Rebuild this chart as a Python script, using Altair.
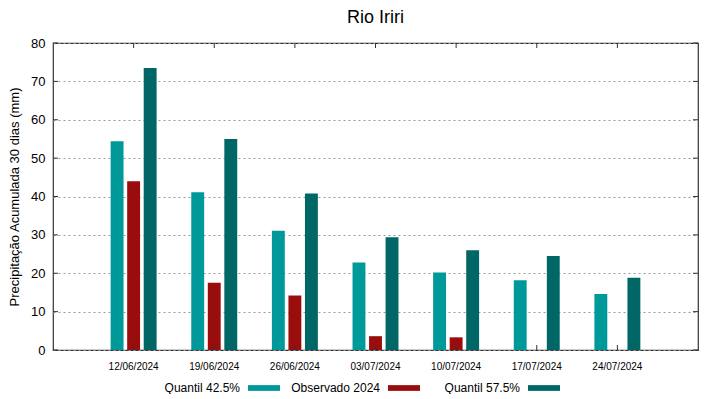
import altair as alt
import pandas as pd

dates = ["12/06/2024", "19/06/2024", "26/06/2024", "03/07/2024",
         "10/07/2024", "17/07/2024", "24/07/2024"]
series = ["Quantil 42.5%", "Observado 2024", "Quantil 57.5%"]
colors = ["#009999", "#990d0d", "#006666"]

q425 = [54.4, 41.1, 31.1, 22.8, 20.2, 18.2, 14.6]
obs = [44.0, 17.5, 14.2, 3.6, 3.3, None, None]
q575 = [73.5, 55.0, 40.8, 29.4, 26.0, 24.5, 18.8]
y_ticks = [0, 10, 20, 30, 40, 50, 60, 70, 80]

rows = []
for i, d in enumerate(dates):
    for s, vals in zip(series, [q425, obs, q575]):
        if vals[i] is not None:
            rows.append({"data": d, "serie": s, "valor": vals[i]})
df = pd.DataFrame(rows)
df_dates = pd.DataFrame({"data": dates})
df_yt = pd.DataFrame({"v": y_ticks})

FONT = "Liberation Sans"
W, H = 645, 307

x_scale = alt.Scale(paddingInner=0.43, paddingOuter=0.715)
y_scale = alt.Scale(domain=[0, 80], nice=False)
x_axis = alt.Axis(title=None, labelAngle=0, labelFontSize=10,
                  labelPadding=11, tickSize=0, domain=False, grid=False,
                  bandPosition=0.5, labelColor="#000", labelFont=FONT)
y_axis = alt.Axis(title="Precipitação Acumulada 30 dias (mm)",
                  values=y_ticks, labelFontSize=13,
                  titleFontSize=13, titleFontWeight="normal",
                  titleColor="#000", labelColor="#000",
                  labelFont=FONT, titleFont=FONT,
                  tickSize=0, labelPadding=8, titlePadding=9,
                  domain=False, grid=True, gridDash=[2, 3],
                  gridColor="#999", gridWidth=1)

bars = alt.Chart(df).mark_bar().encode(
    x=alt.X("data:N", sort=dates, scale=x_scale, axis=x_axis),
    xOffset=alt.XOffset("serie:N", sort=series,
                        scale=alt.Scale(domain=series, paddingInner=0.22, paddingOuter=0)),
    y=alt.Y("valor:Q", scale=y_scale, axis=y_axis),
    color=alt.Color("serie:N", sort=series,
                    scale=alt.Scale(domain=series, range=colors),
                    legend=alt.Legend(title=None, orient="none",
                                      legendX=155, legendY=329,
                                      direction="horizontal",
                                      symbolType="M-5.2,0M1.5,-0.18H3.5V0.18H1.5Z",
                                      symbolSize=1024, symbolStrokeWidth=0,
                                      labelAlign="right", labelOffset=0,
                                      labelFontSize=12, labelFont=FONT,
                                      labelColor="#000", columnPadding=0,
                                      padding=0))
)

yt_left = alt.Chart(df_yt).mark_rule(color="#333", strokeWidth=1).encode(
    y=alt.Y("v:Q", scale=y_scale, axis=y_axis), x=alt.value(0), x2=alt.value(5))
yt_right = alt.Chart(df_yt).mark_rule(color="#333", strokeWidth=1).encode(
    y=alt.Y("v:Q", scale=y_scale, axis=y_axis), x=alt.value(W), x2=alt.value(W - 5))
xt_bot = alt.Chart(df_dates).mark_rule(color="#333", strokeWidth=1).encode(
    x=alt.X("data:N", sort=dates, scale=x_scale, bandPosition=0.5, axis=x_axis),
    y=alt.value(H), y2=alt.value(H - 5))
xt_top = alt.Chart(df_dates).mark_rule(color="#333", strokeWidth=1).encode(
    x=alt.X("data:N", sort=dates, scale=x_scale, bandPosition=0.5, axis=x_axis),
    y=alt.value(0), y2=alt.value(5))

chart = alt.layer(bars, yt_left, yt_right, xt_top, xt_bot).properties(
    width=W, height=H,
    title=alt.TitleParams("Rio Iriri", fontSize=18, fontWeight="normal",
                          font=FONT, color="#000", offset=10),
    padding={"left": 0, "top": 1, "right": 5, "bottom": 0},
).configure(background="white").configure_view(stroke="#333", strokeWidth=1.2)

chart.save("out.html", embed_options={"renderer": "svg", "actions": False})
